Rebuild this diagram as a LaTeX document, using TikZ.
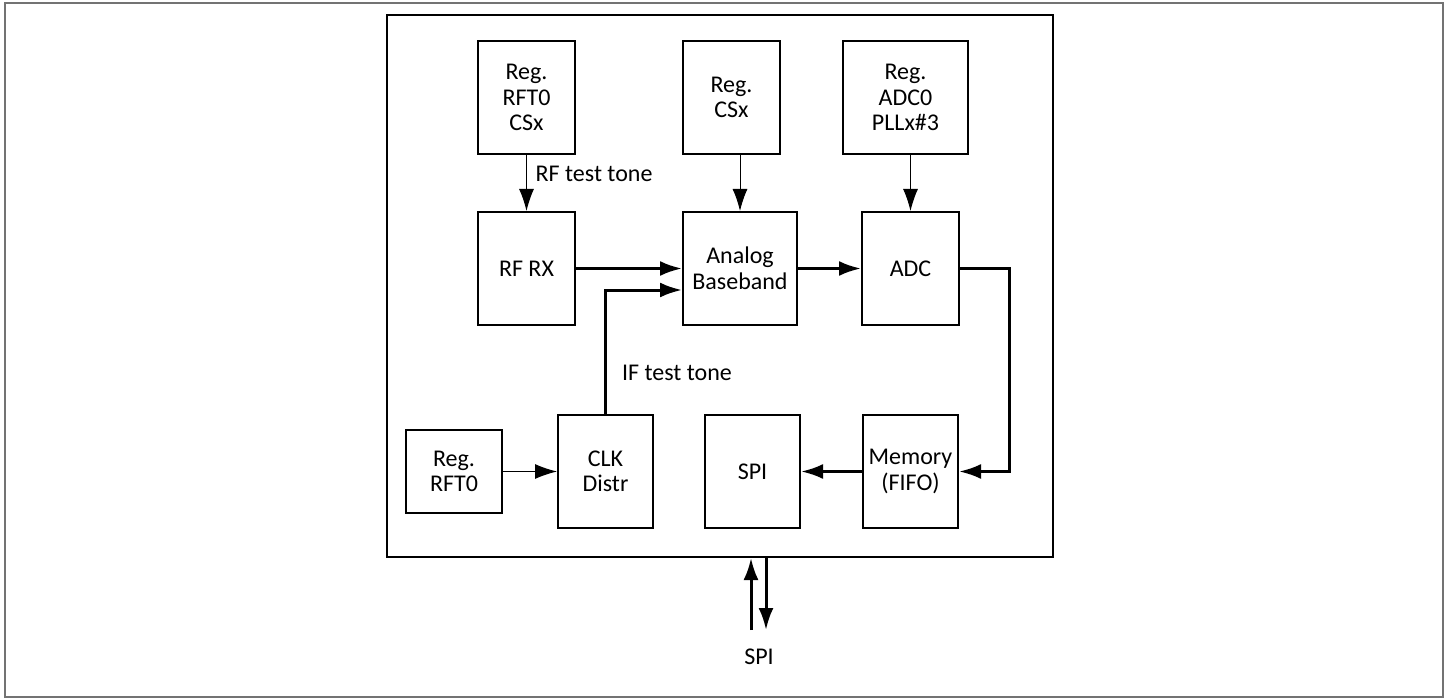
\documentclass[tikz,border=0pt]{standalone}
\usepackage{fontspec}
\setmainfont{Carlito}
\usetikzlibrary{arrows.meta}

\begin{document}
\begin{tikzpicture}[x=0.5pt, y=-0.5pt, every node/.style={font=\fontsize{12}{12.75}\selectfont}, >={Latex[length=11pt,width=7.5pt]},
	blk/.style 2 args={draw, line width=1pt, align=center, inner sep=0pt, minimum width=#1, minimum height=#2},
	ctl/.style={->, line width=0.5pt},
	sig/.style={->, line width=1.5pt}]
	\useasboundingbox (0,0) rectangle (1450,700);
	\draw[gray!90!black, line width=1pt] (5,3) rectangle (1443,697);
	\node[blk={333pt}{271pt}] (chip) at (720,286) {};
	\node[blk={48.5pt}{56.5pt}] (regrf) at (526.5,97.5) {Reg.\\RFT0\\CSx};
	\node[blk={48.5pt}{56.5pt}] (regcs) at (731.5,97.5) {Reg.\\CSx};
	\node[blk={62.5pt}{56.5pt}] (regadc) at (905.5,97.5) {Reg.\\ADC0\\PLLx\#3};
	\node[blk={48.5pt}{56.5pt}] (rfrx) at (526.5,268.5) {RF RX};
	\node[blk={57pt}{56.5pt}] (abb) at (740,268.5) {Analog\\Baseband};
	\node[blk={48.5pt}{56.5pt}] (adc) at (910.5,268.5) {ADC};
	\node[blk={48pt}{41.5pt}] (regclk) at (454,471.5) {Reg.\\RFT0};
	\node[blk={47.5pt}{56.5pt}] (clk) at (605.5,471.5) {CLK\\Distr};
	\node[blk={47.5pt}{56.5pt}] (spi) at (752.5,471.5) {SPI};
	\node[blk={47.5pt}{56.5pt}] (mem) at (910.5,471.5) {Memory\\(FIFO)};
	\draw[ctl] (regrf) -- (rfrx) node[pos=0.33, right=1pt] {RF test tone};
	\draw[ctl] (regcs.south -| abb.north) -- (abb.north);
	\draw[ctl] (regadc.south -| adc.north) -- (adc.north);
	\draw[ctl] (regclk) -- (clk);
	\draw[sig] (rfrx) -- (abb);
	\draw[sig] (abb) -- (adc);
	\draw[sig] (adc.east) -- ++(24.5pt,0) |- (mem.east);
	\draw[sig] (mem) -- (spi);
	\draw[sig] (clk.north) |- ([yshift=-10.75pt]abb.west);
	\node (iftone) at (677,373) {IF test tone};
	\coordinate (spiin) at (751,630);
	\coordinate (spiout) at (766,630);
	\draw[sig] (spiin) -- (spiin |- chip.south);
	\draw[sig] (spiout |- chip.south) -- (spiout);
	\node (spipin) at (759,657) {SPI};
\end{tikzpicture}
\end{document}
